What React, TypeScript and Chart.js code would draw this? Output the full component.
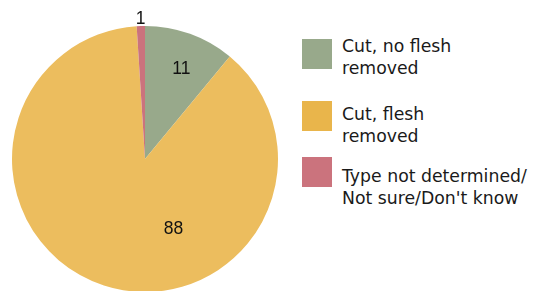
import React, { useEffect, useRef } from "react";
import { Chart, registerables } from "chart.js";

Chart.register(...registerables);

const categories = [
  "Cut, no flesh removed",
  "Cut, flesh removed",
  "Type not determined/Not sure/Don't know",
];
const legendLines = [
  ["Cut, no flesh", "removed"],
  ["Cut, flesh", "removed"],
  ["Type not determined/", "Not sure/Don't know"],
];
const values = [11, 88, 1];

const sliceColors = ["#98A98B", "#ECBD5E", "#CB737D"];
const legendColors = ["#98A98B", "#E9B54B", "#CB737D"];

// label placement per slice: angle (degrees clockwise from top, null = slice middle) and radius fraction
const labelPlacement = [
  { angle: 22 as number | null, r: 0.73 },
  { angle: 158 as number | null, r: 0.57 },
  { angle: null as number | null, r: 1.055 },
];

const labelPlugin = {
  id: "sliceLabels",
  afterDatasetsDraw(chart: any) {
    const ctx = chart.ctx;
    const meta = chart.getDatasetMeta(0);
    ctx.save();
    ctx.font = "17.5px 'Liberation Sans', Arial, sans-serif";
    ctx.fillStyle = "#111";
    ctx.textAlign = "center";
    ctx.textBaseline = "middle";
    meta.data.forEach((arc: any, i: number) => {
      const p = arc.getProps(["x", "y", "startAngle", "endAngle", "outerRadius"], true);
      const pl = labelPlacement[i];
      let a: number;
      if (pl.angle === null) a = (p.startAngle + p.endAngle) / 2;
      else a = (pl.angle / 180) * Math.PI - Math.PI / 2;
      const r = p.outerRadius * pl.r;
      ctx.fillText(String(values[i]), p.x + Math.cos(a) * r, p.y + Math.sin(a) * r);
    });
    ctx.restore();
  },
};

export default function App() {
  const ref = useRef<HTMLCanvasElement | null>(null);
  useEffect(() => {
    document.body.style.margin = "0";
    if (!ref.current) return;
    const chart = new Chart(ref.current, {
      type: "pie",
      data: {
        labels: categories,
        datasets: [
          {
            data: values,
            backgroundColor: sliceColors,
            borderWidth: 0,
          },
        ],
      },
      options: {
        animation: false,
        responsive: false,
        layout: { padding: { left: 12, right: 12, top: 26, bottom: 26 } },
        plugins: {
          legend: { display: false },
          tooltip: { enabled: false },
        },
      },
      plugins: [labelPlugin],
    });
    return () => chart.destroy();
  }, []);

  const squareTops = [39, 101, 157];
  const textTops = [35, 102.5, 164.5];

  return (
    <div
      style={{
        position: "absolute",
        left: 0,
        top: 0,
        width: 534,
        height: 291,
        overflow: "hidden",
        background: "#fff",
      }}
    >
      <canvas
        ref={ref}
        width={290}
        height={318}
        style={{ position: "absolute", left: 0, top: 0, width: 290, height: 318 }}
      />
      {legendLines.map((lines, i) => (
        <React.Fragment key={i}>
          <div
            style={{
              position: "absolute",
              left: 302,
              top: squareTops[i],
              width: 30,
              height: 30,
              background: legendColors[i],
            }}
          />
          <div
            style={{
              position: "absolute",
              left: 342,
              top: textTops[i],
              fontFamily: "'DejaVu Sans', sans-serif",
              fontSize: 17.3,
              lineHeight: "22px",
              color: "#1a1a1a",
              whiteSpace: "nowrap",
            }}
          >
            {lines.map((l, j) => (
              <div key={j}>{l}</div>
            ))}
          </div>
        </React.Fragment>
      ))}
    </div>
  );
}
